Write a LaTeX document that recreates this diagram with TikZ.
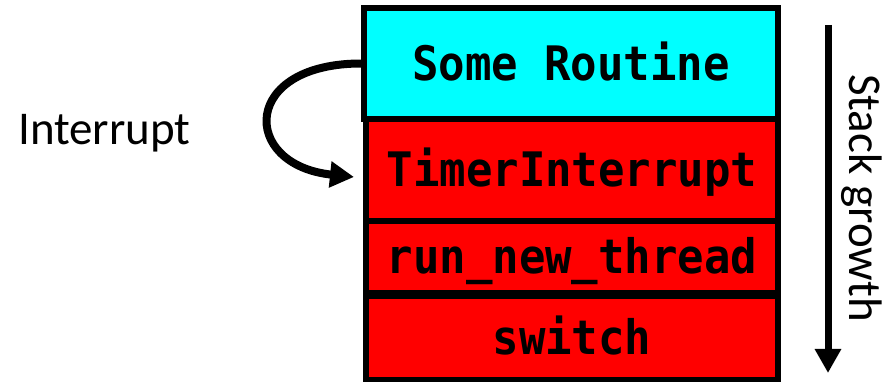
\documentclass[tikz,border=0pt]{standalone}
\usepackage{fontspec}
\setmainfont{Carlito}
\newfontfamily\codefont{DejaVu Sans Mono}
\usetikzlibrary{arrows.meta}

\definecolor{framecyan}{RGB}{0,255,255}
\definecolor{framered}{RGB}{255,0,0}

% code names are set a little taller than the plain monospace face
\newcommand{\codename}[1]{\scalebox{1}[1.08]{#1}}

\begin{document}
\begin{tikzpicture}[x=1pt,y=-1pt,
  frame/.style={draw=black, line width=5.5pt, inner sep=0pt, outer sep=0pt,
    minimum width=412pt, text height=33.5pt, text depth=0pt,
    font=\codefont\bfseries\fontsize{44}{50}\selectfont},
  label/.style={inner sep=0pt, font=\fontsize{47}{52}\selectfont},
  bigarrow/.style={line width=8pt, -{Triangle[length=24pt,width=25pt]}}]
  \useasboundingbox (0,0) rectangle (887,382);

  % stack frames, top of stack first
  \node[frame, fill=framecyan, minimum width=414pt, minimum height=111pt] (routine) at (571,63.5) {\codename{Some Routine}};
  \node[frame, fill=framered, minimum height=102pt] (timer) at (572,170) {\codename{TimerInterrupt}};
  \node[frame, fill=framered, minimum height=72pt] (runnew) at (572,257) {\codename{run\_new\_thread}};
  \node[frame, fill=framered, minimum height=84pt] (switch) at (572,338) {\codename{switch}};
  % redraw the top frame's lower edge over the red frame
  \draw[line width=5.5pt] (routine.south west) -- (routine.south east);

  % interrupt entry
  \node[label, anchor=base west] (irq) at (18,145) {Interrupt};
  \coordinate (irqtip) at (354,177);
  \draw[bigarrow] (routine.west) .. controls (240,62) and (240,165) .. (irqtip);

  % direction of stack growth
  \coordinate (gtop) at (828,25);
  \coordinate (gbot) at (828,373);
  \draw[bigarrow, line width=7pt] (gtop) -- (gbot);
  \node[label, rotate=-90, anchor=base] (growth) at (849,198) {Stack growth};
\end{tikzpicture}
\end{document}
